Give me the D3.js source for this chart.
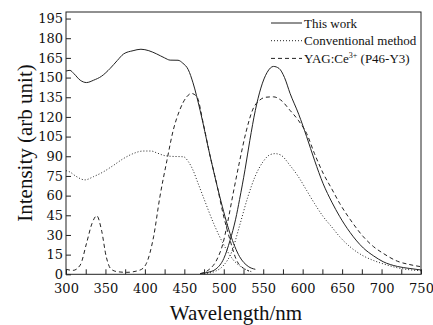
<!DOCTYPE html>
<html>
    <head>
        <meta charset="UTF-8">
        <title>Excitation and emission spectra</title>
        <script src="https://cdn.jsdelivr.net/npm/d3@7"></script>
        <style>
            body { margin: 0; background: #fff; }
            text { font-family: "Liberation Serif", "Times New Roman", serif; fill: #111; }
        </style>
    </head>
    <body>
        <script>
            // spectra, [wavelength nm, intensity]
            var thisWorkExc = [[300,155],[305,155.5],[310,153],[318,148],[326,146.2],[335,148],[345,151],[356,157],[365,163],
                [373,168],[385,170.5],[395,171.6],[405,170.5],[415,168],[425,165],[432,163.3],[442,163.2],[448,161],
                [455,156],[461,146],[470,125],[482,92],[495,59],[508,31],[520,13.5],[531,6],[540,3.8]];
            var thisWorkEm = [[470,0.5],[480,1.5],[490,4],[500,12],[508,26],[515,42],[520,57],[527,80],[533,102],[540,125],
                [547,142],[555,154],[563,158.5],[570,157],[577,150],[584,138],[595,122],[605,105],[615,87],[626,69],
                [637,55],[647,44],[660,32],[677,20],[690,14],[702,9.6],[720,6],[735,4.5],[750,3.3]];
            var convExc = [[300,79],[305,78],[312,75],[324,72],[335,74.5],[347,78],[360,83],[373,88.3],[385,92],[398,94],
                [408,94],[415,92.6],[425,90.5],[432,90],[449,89.6],[455,86],[461,79.4],[467,70],[474,59],[487,39],
                [499,23.6],[512,11],[525,4.6],[535,2]];
            var convEm = [[475,0.5],[490,2.5],[500,7],[510,17],[520,37],[530,58],[540,75],[550,86],[558,91],[565,92],
                [572,91],[584,83],[595,74],[605,64],[615,54],[626,44],[637,36],[647,28.6],[660,21],[677,14],[690,10.5],
                [702,8],[720,5],[735,3.5],[750,2.7]];
            var yagExc = [[300,3.8],[309,3],[318,7],[326,23.6],[333,38.8],[339,44.6],[345,33.7],[351,13.4],[357,4],[365,2],
                [377,1.5],[394,3.3],[402,8.4],[411,28.6],[419,59],[428,87],[436,110],[444,125],[453,135.3],[459,137.9],
                [466,135.3],[474,115],[482,92],[491,69],[499,46.5],[508,26],[516,11],[525,4.6],[532,2.5]];
            var yagEm = [[470,0.5],[480,3],[491,10.9],[499,23.6],[505,40],[512,62],[520,86],[528,108],[537,126],[545,132.5],
                [553,135],[563,135.3],[572,133],[584,125],[595,117],[605,107.4],[615,92],[626,77],[637,65],[647,54],
                [660,42],[677,28.6],[690,21],[702,16],[720,10],[735,7.5],[750,5.8]];

            var xTicks = [300,325,350,375,400,425,450,475,500,525,550,575,600,625,650,675,700,725,750];
            var yTicks = [0,15,30,45,60,75,90,105,120,135,150,165,180,195];
            var legendLabels = ["This work", "Conventional method", "YAG:Ce"];

            var width = 433, height = 325;
            // plot box (note: "top" is taken by window.top, so use plot* names)
            var plotL = 66, plotR = 421, plotT = 12, plotB = 274.3;

            var svg = d3.select("body").append("svg")
                    .attr("width", width)
                    .attr("height", height);

            var x = d3.scaleLinear().domain([300, 750]).range([plotL, plotR]);
            var y = d3.scaleLinear().domain([0, 200]).range([plotB, plotT]);

            // axes, ticks pointing into the plot
            var xAxis = svg.append("g")
                    .attr("transform", "translate(0," + plotB + ")")
                    .call(d3.axisBottom(x).tickValues(xTicks).tickSizeInner(-5).tickSizeOuter(0).tickPadding(9.5)
                            .tickFormat(function (d) { return d % 50 === 0 ? d : ""; }));
            var yAxis = svg.append("g")
                    .attr("transform", "translate(" + plotL + ",0)")
                    .call(d3.axisLeft(y).tickValues(yTicks).tickSizeInner(-5).tickSizeOuter(0).tickPadding(3));
            [xAxis, yAxis].forEach(function (g) {
                g.select(".domain").remove();
                g.selectAll("line").attr("stroke", "#222");
                g.selectAll("text")
                        .style("font-family", "'DejaVu Serif', serif")
                        .style("font-size", "13px")
                        .attr("fill", "#111");
            });

            // frame
            svg.append("rect")
                    .attr("x", plotL).attr("y", plotT)
                    .attr("width", plotR - plotL).attr("height", plotB - plotT)
                    .attr("fill", "none").attr("stroke", "#222").attr("stroke-width", 1);

            var line = d3.line()
                    .x(function (d) { return x(d[0]); })
                    .y(function (d) { return y(d[1]); })
                    .curve(d3.curveMonotoneX);

            var series = [
                {data: thisWorkExc, dash: null},
                {data: thisWorkEm, dash: null},
                {data: convExc, dash: "1,2"},
                {data: convEm, dash: "1,2"},
                {data: yagExc, dash: "4,3"},
                {data: yagEm, dash: "4,3"}
            ];
            svg.selectAll("path.spec")
                    .data(series)
                    .enter()
                    .append("path")
                    .attr("class", "spec")
                    .attr("d", function (d) { return line(d.data); })
                    .attr("fill", "none")
                    .attr("stroke", "#222")
                    .attr("stroke-width", 1)
                    .attr("stroke-dasharray", function (d) { return d.dash; });

            // legend
            var dashes = [null, "1,2", "4,3"];
            var leg = svg.append("g");
            legendLabels.forEach(function (lab, i) {
                var ly = 23 + i * 17.7;
                leg.append("line")
                        .attr("x1", 271).attr("x2", 302)
                        .attr("y1", ly).attr("y2", ly)
                        .attr("stroke", "#222").attr("stroke-width", 1)
                        .attr("stroke-dasharray", dashes[i]);
                var t = leg.append("text")
                        .attr("x", 304).attr("y", ly + 4.5)
                        .style("font-size", "13px")
                        .text(lab);
                if (i === 2) {
                    t.append("tspan").attr("dy", -5).style("font-size", "8px").text("3+");
                    t.append("tspan").attr("dy", 5).text(" (P46-Y3)");
                }
            });

            // axis titles
            svg.append("text")
                    .attr("x", 236).attr("y", 320)
                    .attr("text-anchor", "middle")
                    .style("font-size", "21px")
                    .text("Wavelength/nm");
            svg.append("text")
                    .attr("transform", "translate(31.5,143) rotate(-90)")
                    .attr("text-anchor", "middle")
                    .style("font-size", "21px")
                    .text("Intensity (arb unit)");
        </script>
    </body>
</html>
